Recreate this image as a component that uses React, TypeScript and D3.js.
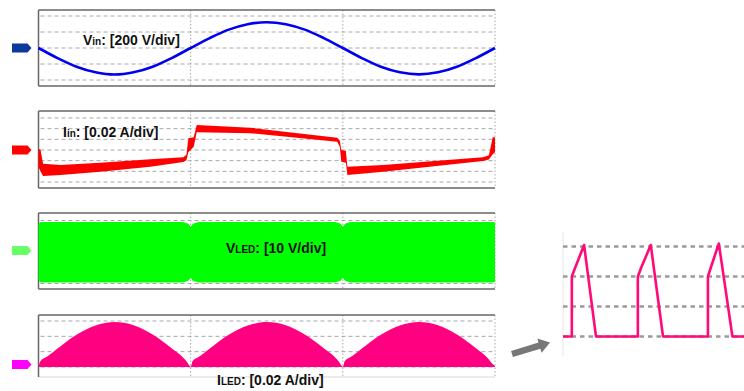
import * as d3 from 'd3';

// time axis: three mains half-cycles across the scope screen
const HALF_TICKS = [0, 1, 2, 3];

// Vin trace (divisions), read every 1/8 half-cycle
const VIN_T = [0, 0.125, 0.25, 0.375, 0.5, 0.625, 0.75, 0.875, 1, 1.125, 1.25, 1.375, 1.5, 1.625, 1.75, 1.875, 2, 2.125, 2.25, 2.375, 2.5, 2.625, 2.75, 2.875, 3];
const VIN = [0, -0.63, -1.17, -1.52, -1.66, -1.52, -1.17, -0.63, 0, 0.62, 1.15, 1.49, 1.61, 1.49, 1.15, 0.62, 0, -0.63, -1.17, -1.52, -1.65, -1.52, -1.17, -0.63, 0];

// Iin envelope (divisions)
const IIN_T = [0, 0.013, 0.03, 0.144, 0.407, 0.735, 0.952, 0.972, 0.985, 1.02, 1.04, 1.392, 1.963, 1.98, 1.99, 2.02, 2.03, 2.265, 2.921, 2.96, 2.985, 3];
const IIN_HI = [0.1, 0.05, -1.3, -1.41, -1.19, -0.87, -0.68, -0.45, 1.1, 1.2, 2.34, 2.09, 1.15, 0.9, 0.0, -0.1, -1.57, -1.41, -0.68, -0.5, 1.2, 1.2];
const IIN_LO = [-1.6, -2.0, -2.44, -2.34, -2.03, -1.57, -1.12, -0.95, -0.2, 0.3, 1.66, 1.57, 0.78, 0.3, -1.1, -1.2, -2.34, -2.03, -1.03, -0.9, -0.4, -0.2];

// VLED switching envelope (divisions)
const VLED_T = [0, 0.01, 0.95, 0.985, 1, 1.015, 1.05, 1.95, 1.985, 2, 2.015, 2.05, 2.99, 3];
const VLED_HI = [1.75, 1.9, 1.9, 1.8, 1.6, 1.8, 1.9, 1.9, 1.8, 1.6, 1.8, 1.9, 1.9, 1.85];
const VLED_LO = [-1.75, -1.94, -1.94, -1.82, -1.65, -1.82, -1.94, -1.94, -1.82, -1.65, -1.82, -1.94, -1.94, -1.9];

// ILED (divisions above ground)
const ILED_T = [0, 0.012, 0.06, 0.125, 0.25, 0.375, 0.5, 0.625, 0.75, 0.875, 0.95, 0.975, 0.995,
  1, 1.012, 1.06, 1.125, 1.25, 1.375, 1.5, 1.625, 1.75, 1.875, 1.95, 1.975, 1.995,
  2, 2.012, 2.06, 2.125, 2.25, 2.375, 2.5, 2.625, 2.75, 2.875, 2.95, 2.975, 3];
const ILED = [0, 0.38, 0.7, 1.2, 2.1, 2.7, 2.93, 2.72, 2.12, 1.22, 0.62, 0.35, 0.05,
  0, 0.38, 0.7, 1.2, 2.1, 2.7, 2.93, 2.72, 2.12, 1.22, 0.62, 0.35, 0.05,
  0, 0.38, 0.7, 1.2, 2.1, 2.7, 2.93, 2.72, 2.12, 1.22, 0.6, 0.3, 0.06];

// zoomed ILED pulses (inset)
const INSET_T = [0, 1.3, 1.3, 1.8, 3.1, 4.85, 11.0, 11.0, 11.5, 12.9, 14.7, 21.3, 21.3, 21.8, 22.9, 24.9, 26.6];
const INSET_V = [0, 0, 2.0, 2.3, 3.05, 0, 0, 2.0, 2.3, 3.05, 0, 0, 2.0, 2.35, 3.1, 0, 0];
const INSET_GRID = [0, 1, 2, 3];

const FONT = '"Liberation Sans", Arial, sans-serif';
const GRID = '#a8a8a8';
const BORDER = '#666';

const X0 = 38.5;
const X1 = 495;
const x = d3.scaleLinear().domain([0, 3]).range([X0, X1]);

interface Panel {
  top: number;
  bottom: number;
  y: d3.ScaleLinear<number, number>;
  grid: number[];
  marker: number;
  markerColor: string;
  bottomColor: string;
}

const panel = (center: number, div: number, top: number, bottom: number, grid: number[], marker: number, markerColor: string, bottomColor = BORDER): Panel => ({
  top,
  bottom,
  y: d3.scaleLinear().domain([0, 1]).range([center, center - div]),
  grid,
  marker,
  markerColor,
  bottomColor,
});

const P1 = panel(48, 16, 10, 86, [-2, -1, 0, 1, 2], 0, '#0b3a9c');
const P2 = panel(150, 10.67, 111, 188, [-3, -2, -1, 0, 1, 2, 3], 0, '#ff0000');
const P3 = panel(252, 15.75, 213, 289, [-2, -1, 0, 1, 2], 0.1, '#66ff66');
const P4 = panel(367, 15.33, 315, 377, [0, 1, 2, 3], 0.17, '#ff00ff', '#e4e4e4');

function Frame({ p }: { p: Panel }) {
  const my = p.y(p.marker);
  return (
    <g>
      {p.grid.map(g => (
        <line key={g} x1={X0 + 2} x2={X1} y1={p.y(g)} y2={p.y(g)} stroke={GRID} strokeWidth={1} strokeDasharray="4 3" />
      ))}
      {HALF_TICKS.slice(1).map(t => (
        <line key={t} x1={x(t)} x2={x(t)} y1={p.top} y2={p.bottom} stroke={GRID} strokeWidth={1} strokeDasharray="1.5 2" />
      ))}
      <line x1={X0} x2={X1} y1={p.top} y2={p.top} stroke={BORDER} strokeWidth={1.5} />
      <line x1={X0} x2={X1} y1={p.bottom} y2={p.bottom} stroke={p.bottomColor} strokeWidth={1.5} />
      <line x1={X0} x2={X0} y1={p.top} y2={p.bottom} stroke={BORDER} strokeWidth={1.5} />
      <path d={`M12,${my - 4.5}H27.5L31.5,${my}L27.5,${my + 4.5}H12Z`} fill={p.markerColor} />
    </g>
  );
}

function Label({ x: lx, y: ly, main, sub, rest }: { x: number; y: number; main: string; sub: string; rest: string }) {
  return (
    <text x={lx} y={ly} fontFamily={FONT} fontWeight={700} fontSize={14} fill="#111">
      {main}
      <tspan fontSize={10}>{sub}</tspan>
      {rest}
    </text>
  );
}

export default function App() {
  const vinLine = d3.line<number>().x((_, i) => x(VIN_T[i])).y(d => P1.y(d)).curve(d3.curveMonotoneX);
  const iinArea = d3.area<number>().x(t => x(t)).y0((_, i) => P2.y(IIN_LO[i])).y1((_, i) => P2.y(IIN_HI[i]));
  const vledArea = d3.area<number>().x(t => x(t)).y0((_, i) => P3.y(VLED_LO[i])).y1((_, i) => P3.y(VLED_HI[i]));
  const iledArea = d3.area<number>().x(t => x(t)).y0(P4.y(0)).y1((_, i) => P4.y(ILED[i])).curve(d3.curveMonotoneX);

  const ix = d3.scaleLinear().domain([0, 26.6]).range([563, 744]);
  const iy = d3.scaleLinear().domain([0, 1]).range([336.5, 306.5]);
  const insetLine = d3.line<number>().x(t => ix(t)).y((_, i) => iy(INSET_V[i]));

  // pointer arrow from the main ILED trace to the inset
  const tail = [512, 354];
  const tip = [ix(0) - 13, iy(-0.2)];
  const ang = Math.atan2(tip[1] - tail[1], tip[0] - tail[0]);
  const len = Math.hypot(tip[0] - tail[0], tip[1] - tail[1]);
  const arrowPath = `M0,-3.2H${len - 11}V-7.5L${len},0L${len - 11},7.5V3.2H0Z`;

  return (
    <svg width={744} height={391} style={{ position: 'absolute', left: 0, top: 0, background: '#fff' }}>
      <Frame p={P1} />
      <Frame p={P2} />
      <Frame p={P3} />
      <Frame p={P4} />

      <path d={vinLine(VIN) ?? ''} fill="none" stroke="#0000f0" strokeWidth={2.6} />
      <path d={iinArea(IIN_T) ?? ''} fill="#ff0000" />
      <path d={vledArea(VLED_T) ?? ''} fill="#00ff00" />
      <path d={iledArea(ILED_T) ?? ''} fill="#ff0080" />

      <Label x={83} y={45} main="V" sub="in" rest=": [200 V/div]" />
      <Label x={63} y={137} main="I" sub="in" rest=": [0.02 A/div]" />
      <Label x={226} y={253} main="V" sub="LED" rest=": [10 V/div]" />
      <Label x={217} y={385} main="I" sub="LED" rest=": [0.02 A/div]" />

      {/* inset */}
      <line x1={ix(0)} x2={ix(0)} y1={232} y2={356} stroke="#e6e6e6" strokeWidth={1} />
      {INSET_GRID.map(g => (
        <line key={g} x1={ix(0)} x2={744} y1={iy(g)} y2={iy(g)} stroke="#9a9a9a" strokeWidth={2.5} strokeDasharray="4.5 4" />
      ))}
      <path d={insetLine(INSET_T) ?? ''} fill="none" stroke="#ff0a78" strokeWidth={2.6} strokeLinejoin="round" />

      <path d={arrowPath} fill="#777" transform={`translate(${tail[0]},${tail[1]}) rotate(${(ang * 180) / Math.PI})`} />
    </svg>
  );
}
